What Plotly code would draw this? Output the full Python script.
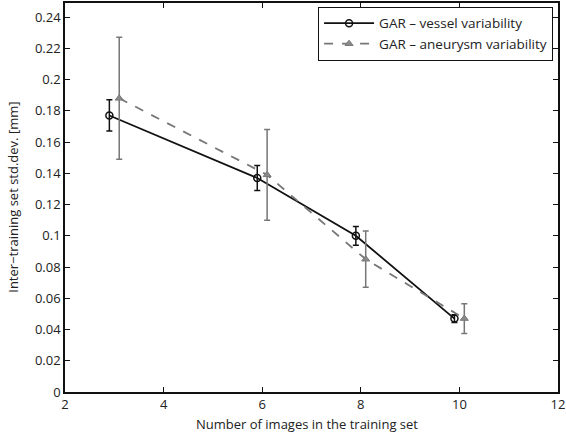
import plotly.graph_objects as go

x_vessel = [2.9, 5.9, 7.9, 9.9]
y_vessel = [0.177, 0.137, 0.100, 0.047]
err_vessel = [0.010, 0.008, 0.006, 0.0025]

x_aneur = [3.1, 6.1, 8.1, 10.1]
y_aneur = [0.188, 0.139, 0.085, 0.047]
err_aneur = [0.039, 0.029, 0.018, 0.0095]

x_ticks = [2, 4, 6, 8, 10, 12]
y_ticks = [0, 0.02, 0.04, 0.06, 0.08, 0.1, 0.12, 0.14, 0.16, 0.18, 0.2, 0.22, 0.24]
y_tick_text = ["0", "0.02", "0.04", "0.06", "0.08", "0.1", "0.12", "0.14", "0.16", "0.18", "0.2", "0.22", "0.24"]

FONT = "Open Sans"

fig = go.Figure()
fig.add_trace(go.Scatter(
    x=x_vessel, y=y_vessel, mode="lines+markers",
    name="GAR \u2013 vessel variability",
    line=dict(color="#111111", width=1.8),
    marker=dict(symbol="circle-open", size=7, color="#111111", line=dict(width=1.5)),
    error_y=dict(type="data", array=err_vessel, color="#111111", thickness=1.5, width=3),
))
fig.add_trace(go.Scatter(
    x=x_aneur, y=y_aneur, mode="lines+markers",
    name="GAR \u2013 aneurysm variability",
    line=dict(color="#777777", width=1.8, dash="dash"),
    marker=dict(symbol="triangle-up", size=7, color="#8a8a8a", line=dict(width=1, color="#777777")),
    error_y=dict(type="data", array=err_aneur, color="#777777", thickness=1.5, width=3),
))

fig.update_layout(
    width=566, height=437,
    margin=dict(l=65, r=6, t=1, b=45),
    paper_bgcolor="white", plot_bgcolor="white",
    font=dict(family=FONT, size=12, color="#222222"),
    showlegend=True,
    legend=dict(
        x=0.99, y=0.99, xanchor="right", yanchor="top",
        bgcolor="white", bordercolor="#111111", borderwidth=1,
        font=dict(family=FONT, size=13.5, color="#222222"),
        tracegroupgap=0, itemwidth=50,
    ),
    xaxis=dict(
        range=[2, 12.0005], tickvals=x_ticks, ticks="inside", ticklen=5,
        tickcolor="#111111", showline=True, linecolor="#111111", linewidth=1.5,
        mirror="ticks", showgrid=False, zeroline=False,
        tickfont=dict(family=FONT, size=13), ticklabeloverflow="allow",
    ),
    yaxis=dict(
        range=[0, 0.249], tickvals=y_ticks, ticktext=y_tick_text, ticks="inside", ticklen=5,
        tickcolor="#111111", showline=True, linecolor="#111111", linewidth=1.5,
        mirror="ticks", showgrid=False, zeroline=False,
        tickfont=dict(family=FONT, size=13),
    ),
    annotations=[
        dict(text="Number of images in the training set", xref="paper", yref="paper",
             x=0.49, y=-0.055, xanchor="center", yanchor="top", showarrow=False,
             font=dict(family=FONT, size=13)),
        dict(text="Inter\u2212training set std.dev. [mm]", xref="paper", yref="paper",
             x=-0.107, y=0.5, xanchor="center", yanchor="middle", showarrow=False,
             textangle=-90, font=dict(family=FONT, size=13)),
    ],
)

fig.write_html("out.html")
